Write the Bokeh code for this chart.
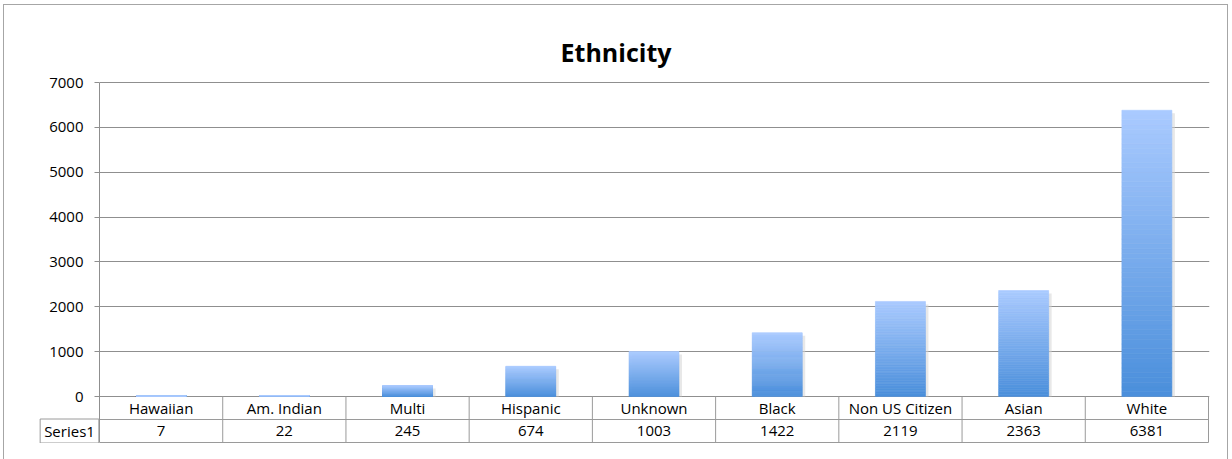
import numpy as np
from bokeh.plotting import figure
from bokeh.models import Range1d, FixedTicker, Label
from bokeh.embed import file_html
from bokeh.resources import INLINE

# ---- data ----
categories = ["Hawaiian", "Am. Indian", "Multi", "Hispanic", "Unknown",
              "Black", "Non US Citizen", "Asian", "White"]
counts = [7, 22, 245, 674, 1003, 1422, 2119, 2363, 6381]
y_ticks = [0, 1000, 2000, 3000, 4000, 5000, 6000, 7000]
series_name = "Series1"
title_text = "Ethnicity"

# ---- layout constants (pixels) ----
W, H = 1216, 443
FL, FR = 99, 1209    # frame left/right
FT = 30              # frame top
CELL_L = 39          # left edge of the series-name cell
Y_TOP_PX = 82        # pixel row of top tick
Y0_PX = 396          # pixel row of zero
ROW_PX = 23          # data-table row height
TITLE_X_PX = 615.5
TITLE_BASE_PX = 51
FONT = "Open Sans"
GRID = "#8f8f8f"
TABLE = "#9a9a9a"

y_max = y_ticks[-1]
n = len(categories)
col_px = (FR - 1 - FL) / n
ppu = (Y0_PX - Y_TOP_PX) / y_max
row_h = ROW_PX / ppu
x_end = (FR - FL) / col_px

p = figure(width=W, height=H, output_backend="svg", toolbar_location=None,
           x_range=Range1d(0, x_end),
           y_range=Range1d(-(H - Y0_PX) / ppu, y_max + (Y_TOP_PX - FT) / ppu),
           x_axis_location=None, min_border_left=FL, min_border_right=W - FR,
           min_border_top=FT, min_border_bottom=0, title=None)
p.outline_line_color = None
p.background_fill_color = None
p.border_fill_color = None

p.xgrid.visible = False
p.ygrid.ticker = FixedTicker(ticks=y_ticks)
p.ygrid.grid_line_color = GRID
p.ygrid.grid_line_width = 1.2

ax = p.yaxis[0]
ax.ticker = FixedTicker(ticks=y_ticks)
ax.bounds = (-2 * row_h, y_max)
ax.axis_line_color = GRID
ax.major_tick_line_color = GRID
ax.major_tick_out = 5
ax.major_tick_in = 0
ax.minor_tick_line_color = None
ax.major_label_standoff = 11
ax.major_label_text_font = FONT
ax.major_label_text_font_size = "15px"
ax.major_label_text_color = "#000000"

xs = np.arange(n) + 0.5
bar_w = 50 / col_px

# soft shadow at the right of each bar
sh_dx = 3 / col_px
sh_top = np.maximum(np.array(counts) - 3 / ppu, 0)
p.vbar(x=xs + sh_dx, width=bar_w, bottom=0, top=sh_top,
       fill_color="#d6d6d6", fill_alpha=0.55, line_color=None)

# gradient bars (each bar: darker bottom -> lighter top)
bottom_rgb = np.array([0x4a, 0x8e, 0xdb])
top_rgb = np.array([0xaa, 0xcb, 0xff])
N = 60
bx, bb, bt, bc = [], [], [], []
for x, v in zip(xs, counts):
    for k in range(N):
        t = (k + 0.5) / N
        c = bottom_rgb + (top_rgb - bottom_rgb) * t
        bx.append(x)
        bb.append(v * k / N)
        bt.append(v * (k + 1) / N)
        bc.append("#%02x%02x%02x" % tuple(int(round(q)) for q in c))
p.vbar(x=bx, width=bar_w, bottom=bb, top=bt, fill_color=bc,
       line_color=bc, line_width=0.6)

# title
p.text(x=[(TITLE_X_PX - FL) / col_px], y=[y_max + (Y_TOP_PX - TITLE_BASE_PX) / ppu],
       text=[title_text], text_align="center", text_baseline="alphabetic",
       text_font={"value": FONT}, text_font_size="25px",
       text_font_style="bold", text_color="#000000")

# data table under the bars
p.segment(x0=[0, 0], x1=[n, n], y0=[-row_h, -2 * row_h], y1=[-row_h, -2 * row_h],
          line_color=TABLE, line_width=1)
p.segment(x0=list(range(1, n + 1)), x1=list(range(1, n + 1)),
          y0=[0] * n, y1=[-2 * row_h] * n, line_color=TABLE, line_width=1)
p.text(x=xs, y=[-row_h / 2] * n, text=categories, text_align="center",
       text_baseline="middle", text_font={"value": FONT},
       text_font_size="15px", text_color="#000000")
p.text(x=xs, y=[-1.5 * row_h] * n, text=[str(v) for v in counts],
       text_align="center", text_baseline="middle", text_font={"value": FONT},
       text_font_size="15px", text_color="#000000")

# series-name cell, left of the axis (lives in the top side panel, so it is not clipped)
p.add_layout(Label(x=-(FL - CELL_L) / 2 / col_px, y=-1.5 * row_h,
                   text=series_name, text_align="center", text_baseline="middle",
                   text_font=FONT, text_font_size="15px", text_color="#000000",
                   border_line_color=TABLE, background_fill_color="white",
                   padding=dict(left=4, right=4, top=2, bottom=2)), "above")

G = "#a6a6a6"
p.styles = {"box-shadow": ", ".join([
    "inset 3px 0 0 0 #ffffff", "inset 0 4px 0 0 #ffffff",
    "11px 5px 0 0 #ffffff", "11px 20px 0 0 #ffffff", "4px 16px 0 0 #ffffff",
    "inset 4px 0 0 0 " + G, "inset 0 5px 0 0 " + G,
    "12px 4px 0 0 " + G, "12px 20px 0 0 " + G, "3px 16px 0 0 " + G,
])}

open("out.html", "w").write(file_html(p, INLINE))
